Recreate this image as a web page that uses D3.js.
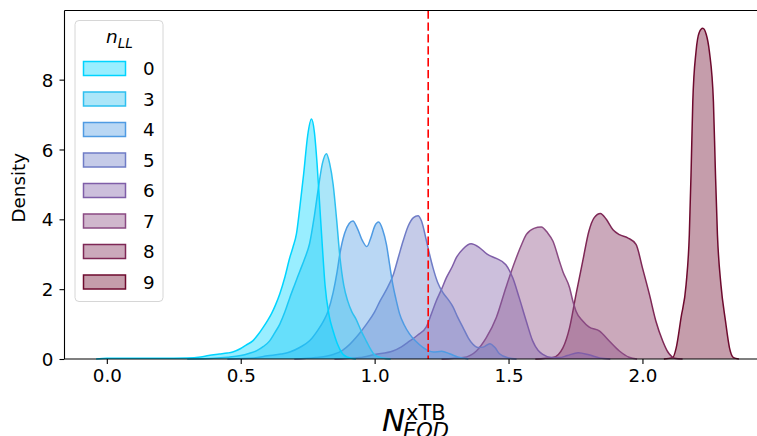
<!DOCTYPE html>
<html><head><meta charset="utf-8">
<script src="https://cdn.jsdelivr.net/npm/d3@7"></script>
<style>body{margin:0;background:#fff}svg{display:block}text{font-family:"DejaVu Sans",sans-serif}</style>
</head><body><svg id="c" width="757" height="436"></svg>
<script>
const categories = ["0","3","4","5","6","7","8","9"];
const colors = ["#00d4ff","#2ec0f0","#4f9be3","#6f7cc6","#7f5ea8","#8a4a82","#7e2755","#6e0a2e"];
const xTicks = [0, 0.5, 1.0, 1.5, 2.0];
const yTicks = [0, 2, 4, 6, 8];
const refLine = 1.2;

const s0x = [-0.04,0.0,0.1,0.2,0.3,0.35,0.38,0.42,0.45,0.47,0.5,0.52,0.545,0.565,0.585,0.6,0.615,0.63,0.646,0.665,0.683,0.695,0.708,0.72,0.735,0.75,0.764,0.775,0.785,0.795,0.805,0.815,0.83,0.845,0.86,0.88,0.9,0.93];
const s0y = [0,0.02,0.02,0.02,0.03,0.06,0.1,0.14,0.17,0.2,0.3,0.4,0.52,0.7,0.92,1.1,1.3,1.55,1.87,2.35,2.9,3.2,3.58,4.3,5.3,6.4,6.87,6.5,5.6,4.4,3.2,2.1,1.25,0.8,0.45,0.15,0.05,0];
const s3x = [0.3,0.4,0.45,0.5,0.53,0.56,0.585,0.608,0.627,0.646,0.665,0.683,0.7,0.72,0.74,0.757,0.775,0.79,0.805,0.82,0.832,0.845,0.858,0.87,0.885,0.9,0.915,0.93,0.95,0.97,0.985,1.0,1.03,1.06];
const s3y = [0,0.02,0.05,0.1,0.16,0.24,0.36,0.52,0.75,1.0,1.35,1.75,2.1,2.5,2.9,3.3,4.1,4.9,5.6,5.88,5.6,5.0,4.0,2.95,2.1,1.65,1.35,1.15,0.8,0.5,0.28,0.12,0.03,0];
const s4x = [0.45,0.55,0.6,0.65,0.683,0.72,0.757,0.79,0.81,0.826,0.845,0.86,0.87,0.888,0.905,0.919,0.935,0.955,0.971,0.985,1.0,1.015,1.03,1.044,1.056,1.068,1.08,1.093,1.11,1.13,1.155,1.18,1.2,1.22,1.25,1.28,1.31,1.35];
const s4y = [0,0.03,0.09,0.14,0.2,0.33,0.52,0.85,1.1,1.37,1.9,2.5,3.0,3.6,3.88,3.95,3.75,3.38,3.22,3.45,3.8,3.92,3.7,3.28,2.7,2.13,1.7,1.3,0.98,0.72,0.5,0.33,0.24,0.2,0.22,0.15,0.06,0];
const s5x = [0.7,0.78,0.845,0.88,0.907,0.94,0.969,1.0,1.02,1.045,1.07,1.09,1.106,1.125,1.145,1.162,1.175,1.193,1.205,1.218,1.235,1.255,1.275,1.292,1.31,1.33,1.35,1.367,1.385,1.405,1.43,1.45,1.466,1.5,1.53];
const s5y = [0,0.04,0.13,0.25,0.42,0.7,0.99,1.35,1.66,2.0,2.42,2.95,3.37,3.8,4.05,4.1,3.95,3.4,3.0,2.61,2.2,1.9,1.7,1.5,1.2,0.9,0.6,0.42,0.33,0.34,0.44,0.32,0.15,0.03,0];
const s6x = [0.85,0.944,1.0,1.068,1.1,1.13,1.16,1.193,1.21,1.23,1.25,1.268,1.29,1.305,1.33,1.36,1.39,1.42,1.454,1.49,1.516,1.54,1.566,1.59,1.61,1.628,1.66,1.69,1.72,1.76,1.8,1.84,1.88];
const s6y = [0,0.04,0.13,0.23,0.35,0.51,0.68,0.92,1.25,1.66,2.0,2.33,2.65,2.9,3.15,3.3,3.2,3.0,2.88,2.7,2.32,1.75,1.09,0.52,0.25,0.13,0.04,0.04,0.1,0.18,0.12,0.03,0];
const s7x = [1.25,1.33,1.38,1.417,1.454,1.49,1.51,1.529,1.55,1.566,1.595,1.622,1.645,1.666,1.69,1.703,1.728,1.74,1.752,1.777,1.8,1.84,1.877,1.914,1.95,1.98];
const s7y = [0,0.04,0.23,0.61,1.18,2.04,2.5,2.9,3.3,3.56,3.74,3.78,3.62,3.37,2.8,2.5,2.04,1.66,1.37,1.09,0.92,0.8,0.51,0.23,0.05,0];
const s8x = [1.6,1.666,1.703,1.728,1.752,1.777,1.8,1.82,1.843,1.865,1.89,1.914,1.945,1.976,2.0,2.026,2.05,2.076,2.095,2.107,2.12,2.15];
const s8y = [0,0.04,0.32,0.9,1.85,2.8,3.66,4.05,4.17,4.0,3.7,3.56,3.47,3.28,2.61,1.85,1.09,0.51,0.2,0.09,0.02,0];
const s9x = [2.08,2.113,2.126,2.144,2.163,2.175,2.182,2.188,2.2,2.212,2.225,2.238,2.25,2.265,2.272,2.28,2.293,2.31,2.325,2.34,2.36];
const s9y = [0,0.04,0.32,1.18,2.13,3.56,5.47,7.37,8.8,9.35,9.47,9.3,8.8,7.37,5.47,3.56,2.13,1.09,0.32,0.04,0];

const seriesX = [s0x,s3x,s4x,s5x,s6x,s7x,s8x,s9x];
const seriesY = [s0y,s3y,s4y,s5y,s6y,s7y,s8y,s9y];

const svg = d3.select("#c");
const L = 64.5, R = 771, T = 10.5, B = 359;
const x = d3.scaleLinear().domain([-0.158, 2.48]).range([L, R]);
const y = d3.scaleLinear().domain([0, 9.98]).range([B, T]);

const area = d3.area().x(d => x(d[0])).y0(y(0)).y1(d => y(d[1])).curve(d3.curveMonotoneX);
const line = d3.line().x(d => x(d[0])).y(d => y(d[1])).curve(d3.curveMonotoneX);

const g = svg.append("g");
for (let i = categories.length - 1; i >= 0; i--) {
  const pts = seriesX[i].map((v, k) => [v, seriesY[i][k]]);
  g.append("path").attr("d", area(pts)).attr("fill", colors[i]).attr("fill-opacity", 0.4);
  g.append("path").attr("d", line(pts)).attr("fill", "none").attr("stroke", colors[i]).attr("stroke-width", 1.5);
}

// reference line
svg.append("line").attr("x1", x(refLine)).attr("x2", x(refLine)).attr("y1", T).attr("y2", B)
  .attr("stroke", "#ff0000").attr("stroke-width", 1.6).attr("stroke-dasharray", "8.3,3.6");

// axes
const xAxis = d3.axisBottom(x).tickValues(xTicks).tickFormat(d3.format(".1f")).tickSize(5).tickPadding(5);
const yAxis = d3.axisLeft(y).tickValues(yTicks).tickFormat(d3.format("d")).tickSize(5).tickPadding(6);
const gx = svg.append("g").attr("transform", `translate(0,${B})`).call(xAxis);
const gy = svg.append("g").attr("transform", `translate(${L},0)`).call(yAxis);
[gx, gy].forEach(a => {
  a.select(".domain").remove();
  a.selectAll("line").attr("stroke", "#000").attr("stroke-width", 1.1);
  a.selectAll("text").attr("font-size", 18.3).attr("fill", "#000").attr("font-family", "DejaVu Sans");
});
gy.selectAll("text").attr("dy", "0.36em");
// spines
svg.append("line").attr("x1", L).attr("x2", L).attr("y1", T).attr("y2", B).attr("stroke", "#000").attr("stroke-width", 1.1);
svg.append("line").attr("x1", L).attr("x2", R).attr("y1", B).attr("y2", B).attr("stroke", "#000").attr("stroke-width", 1.1);
svg.append("line").attr("x1", L).attr("x2", R).attr("y1", T).attr("y2", T).attr("stroke", "#000").attr("stroke-width", 1.1);

// y label
svg.append("text").attr("transform", `translate(25,${(T+B)/2 + 3}) rotate(-90)`).attr("text-anchor", "middle")
  .attr("font-size", 18.3).text("Density");

// x label (mathtext-like)
const xl = svg.append("g").attr("transform", "translate(382,431)");
xl.append("text").attr("font-size", 31).attr("font-style", "italic").attr("x", 0).attr("y", 0).text("N");
xl.append("text").attr("font-size", 21).attr("x", 24).attr("y", -11).text("xTB");
xl.append("text").attr("font-size", 21).attr("font-style", "italic").attr("x", 21).attr("y", 7).text("EOD");

// legend
const lg = svg.append("g");
lg.append("rect").attr("x", 75).attr("y", 20.5).attr("width", 88).attr("height", 281).attr("rx", 4)
  .attr("fill", "#fff").attr("fill-opacity", 0.8).attr("stroke", "#d6d6d6").attr("stroke-width", 1);
const tt = lg.append("text").attr("x", 106).attr("y", 43).attr("font-size", 18.5).attr("font-style", "italic");
tt.append("tspan").text("n");
tt.append("tspan").attr("dy", 5).attr("font-size", 13.5).text("LL");
categories.forEach((c, i) => {
  const cy = 68.5 + i * 30.5;
  lg.append("rect").attr("x", 83.5).attr("y", cy - 7).attr("width", 42).attr("height", 14)
    .attr("fill", colors[i]).attr("fill-opacity", 0.4).attr("stroke", colors[i]).attr("stroke-width", 1.5);
  lg.append("text").attr("x", 143).attr("y", cy + 6.5).attr("font-size", 18.3).text(c);
});
</script></body></html>
